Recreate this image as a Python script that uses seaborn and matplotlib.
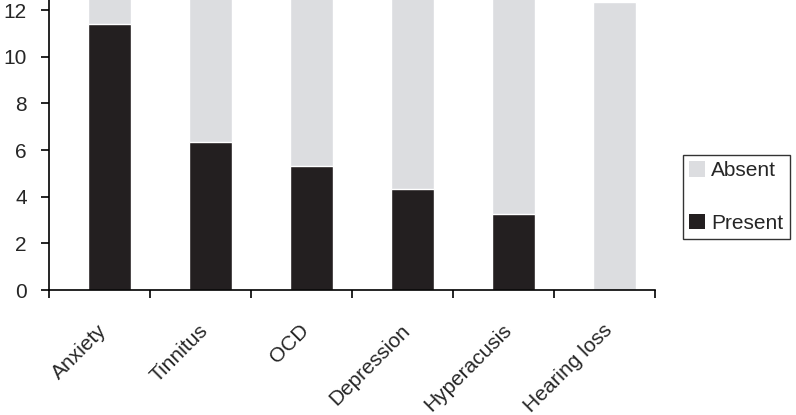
import pandas as pd
import matplotlib.pyplot as plt
import seaborn as sns
from matplotlib.patches import Patch

categories = ['Anxiety', 'Tinnitus', 'OCD', 'Depression', 'Hyperacusis', 'Hearing loss']
present = [11.4, 6.35, 5.3, 4.35, 3.25, 0.0]
total = [14.0, 14.0, 14.0, 14.0, 14.0, 12.35]

df = pd.DataFrame({'condition': categories, 'present': present, 'total': total})

sns.set_style('white')
plt.rcParams['font.family'] = ['Liberation Sans', 'DejaVu Sans']

dark = '#231f20'
light = '#dcdde0'
fs = 15

fig = plt.figure(figsize=(7.96, 4.15), dpi=100)
ax = fig.add_axes([49 / 796, 125 / 415, 606 / 796, 290 / 415])

# absent stacked on top of present -> draw total first, present over it
sns.barplot(data=df, x='condition', y='total', color=light, width=0.42,
            saturation=1, ax=ax)
sns.barplot(data=df, x='condition', y='present', color=dark, width=0.42,
            saturation=1, ax=ax)

ax.set_xlim(-0.6, 5.4)
ax.set_ylim(0, 12.43)
ax.set_yticks([0, 2, 4, 6, 8, 10, 12])
ax.set_xlabel('')
ax.set_ylabel('')

# ticks at the category boundaries, labels between them
ax.set_xticks([i - 0.6 for i in range(7)])
ax.set_xticklabels([''] * 7)
ax.set_xticks([i - 0.12 for i in range(6)], minor=True)
ax.set_xticklabels(categories, minor=True, rotation=45, ha='right',
                   rotation_mode='anchor', fontsize=fs)
ax.tick_params(axis='x', which='minor', length=0, pad=22)
ax.tick_params(axis='x', which='major', direction='out', length=6, width=1.2,
               color='black', bottom=True)
ax.tick_params(axis='y', direction='out', length=6, width=1.2, color='black',
               left=True, labelsize=fs, pad=10)

for s in ['top', 'right']:
    ax.spines[s].set_visible(False)
for s in ['left', 'bottom']:
    ax.spines[s].set_color('black')
    ax.spines[s].set_linewidth(1.2)

handles = [Patch(facecolor=light, edgecolor='none', label='Absent'),
           Patch(facecolor=dark, edgecolor='none', label='Present')]
leg = fig.legend(handles=handles, loc='center left',
                 bbox_to_anchor=(683 / 796, 1 - 197 / 415),
                 frameon=True, fancybox=False, fontsize=fs,
                 labelspacing=1.6, handlelength=0.75, handleheight=0.75,
                 handletextpad=0.3, borderpad=0.3, borderaxespad=0)
leg.get_frame().set_edgecolor('black')
leg.get_frame().set_linewidth(1.0)

fig.savefig('out.png', dpi=100)
